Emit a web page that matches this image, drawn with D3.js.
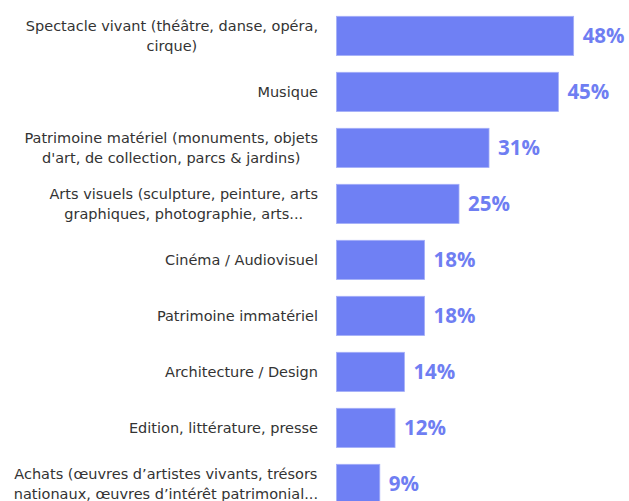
<!DOCTYPE html>
<html>
<head>
<meta charset="utf-8">
<script src="https://cdn.jsdelivr.net/npm/d3@7"></script>
<style>
  html, body { margin: 0; padding: 0; background: #ffffff; }
  svg { display: block; }
</style>
</head>
<body>
<svg id="chart" width="629" height="501"></svg>
<script>
const categories = [
  ["Spectacle vivant (théâtre, danse, opéra,", "cirque)"],
  ["Musique"],
  ["Patrimoine matériel (monuments, objets", "d'art, de collection, parcs & jardins)"],
  ["Arts visuels (sculpture, peinture, arts", "graphiques, photographie, arts..."],
  ["Cinéma / Audiovisuel"],
  ["Patrimoine immatériel"],
  ["Architecture / Design"],
  ["Edition, littérature, presse"],
  ["Achats (œuvres d’artistes vivants, trésors", "nationaux, œuvres d’intérêt patrimonial..."]
];
const values = [48.2, 45.1, 31.0, 24.9, 17.9, 17.9, 13.8, 11.9, 8.8];
const valueLabels = ["48%", "45%", "31%", "25%", "18%", "18%", "14%", "12%", "9%"];

const svg = d3.select("#chart");
const ids = categories.map((c, i) => i);

const x = d3.scaleLinear().domain([0, 50]).range([336.5, 336.5 + 246]);
const y = d3.scaleBand().domain(ids).range([7.9, 511.9]).paddingInner(0.3).paddingOuter(0.15);

const barColor = "#6f80f4";
const labelColor = "#6f7ef2";
const textColor = "#333333";

// bars
svg.append("g").selectAll("rect")
  .data(ids)
  .join("rect")
  .attr("x", x(0))
  .attr("y", i => y(i))
  .attr("width", i => x(values[i]) - x(0))
  .attr("height", y.bandwidth())
  .attr("fill", barColor)
  .attr("stroke", "#a4aef8")
  .attr("stroke-width", 0.8);

// value labels
svg.append("g").selectAll("text")
  .data(ids)
  .join("text")
  .attr("x", i => x(values[i]) + 9)
  .attr("y", i => y(i) + y.bandwidth() / 2)
  .attr("dy", "0.36em")
  .attr("font-family", "'Open Sans', sans-serif")
  .attr("font-weight", "bold")
  .attr("font-size", "20.5px")
  .attr("fill", labelColor)
  .text(i => valueLabels[i]);

// category labels (centered lines, block right-aligned)
const rightEdge = 318;
const lineH = 20;
const lg = svg.append("g");
ids.forEach(i => {
  const lines = categories[i];
  const g = lg.append("g");
  const cy = y(i) + y.bandwidth() / 2;
  const texts = lines.map((t, k) => g.append("text")
    .attr("y", cy + (k - (lines.length - 1) / 2) * lineH)
    .attr("dy", "0.35em")
    .attr("font-family", "'DejaVu Sans', sans-serif")
    .attr("font-size", "14.5px")
    .attr("fill", textColor)
    .attr("text-anchor", "middle")
    .text(t));
  const maxW = d3.max(texts, t => t.node().getComputedTextLength());
  texts.forEach(t => t.attr("x", rightEdge - maxW / 2));
});
</script>
</body>
</html>
